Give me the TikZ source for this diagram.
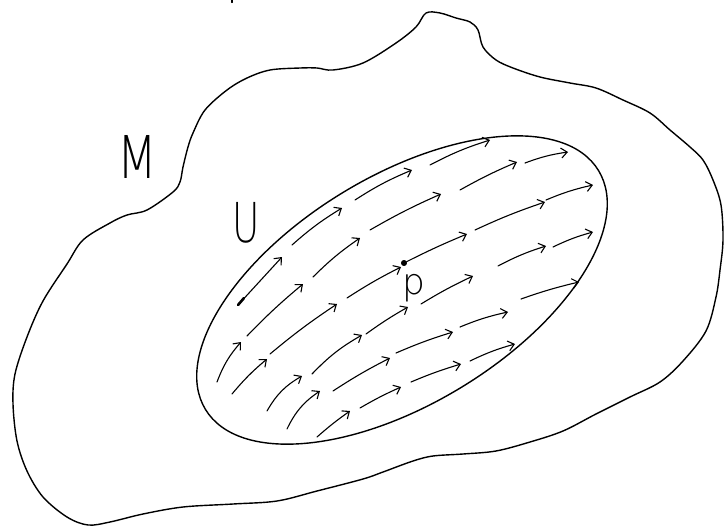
\documentclass[tikz,border=0pt]{standalone}
\usepackage{fontspec}
\newfontfamily\handfont{DejaVu Sans ExtraLight}
\usetikzlibrary{arrows.meta,shapes.geometric}
\begin{document}
\begin{tikzpicture}[x=1pt,y=-1pt, line cap=round, line join=round,
  outline/.style={line width=1.4pt},
  vec/.style={line width=1.1pt, -{Straight Barb[length=6pt,width=10pt]}},
  lbl/.style={inner sep=0pt}]
\useasboundingbox (0,0) rectangle (726,528);
% outer region M
\draw[outline] plot[smooth cycle, tension=0.55] coordinates {
 (426,13) (440,13) (456,18) (470,22) (478,30) (483,47) (496,60) (513,68)
 (540,77) (570,83) (596,88) (623,100) (650,113) (670,130) (690,147) (703,160)
 (713,180) (721,205) (723,240) (720,270) (716,297) (706,331) (683,361) (660,382)
 (630,397) (596,414) (563,431) (530,442) (496,451) (463,454) (433,456) (413,461)
 (383,472) (363,479) (317,491) (277,501) (233,504) (183,507) (143,514) (110,522)
 (88,525) (67,517) (43,497) (27,471) (17,441) (13,404) (15,374) (27,337)
 (43,301) (67,264) (83,240) (110,223) (127,215) (147,210) (173,192) (180,182)
 (183,167) (188,147) (193,133) (205,110) (227,90) (247,78) (270,70) (300,68)
 (317,68) (333,70) (363,63) (396,43) (416,27)};
\draw[line width=1.2pt] (232,0) -- (232,2.5);
% open set U
\node[draw, ellipse, outline, minimum width=460pt, minimum height=228pt,
      inner sep=0pt, rotate=31.3] (U) at (402,290) {};
% labels
\node[lbl, font=\handfont\fontsize{59pt}{59pt}\selectfont] (Mlabel) at (137,157) {\scalebox{0.78}[1]{M}};
\node[lbl, font=\handfont\fontsize{55pt}{55pt}\selectfont] (Ulabel) at (246,223) {\scalebox{0.68}[1]{U}};
\node[lbl, font=\handfont\fontsize{36pt}{36pt}\selectfont] (plabel) at (414,288) {p};
% point p
\node[circle, draw, fill, line width=1pt, inner sep=0pt, minimum size=5pt] (p) at (404,263) {};
% vector field
\draw[vec] (p) to[bend left=2] (467,234);
\foreach \xa/\ya/\xb/\yb/\bd in {
 430/165/490/140/5, 355/200/412/170/5, 460/190/517/162/3, 525/163/568/152/6,
 292/245/342/208/5, 370/230/441/194/3, 475/230/545/202/3, 546/200/593/185/5,
 238/305/282/257/0, 313/277/360/238/5, 498/266/546/246/5, 553/247/593/232/5,
 247/336/303/284/3, 347/298/401/267/3, 421/304/473/276/3, 521/299/579/282/3,
 217/382/241/342/10, 270/354/337/304/3, 366/334/408/307/3, 460/327/508/312/5,
 232/394/267/359/5, 312/374/362/335/8, 396/353/453/332/3, 470/361/515/344/5,
 267/411/302/376/15, 333/391/390/358/3, 411/382/461/364/3, 287/429/320/391/15,
 360/408/401/387/3, 317/437/350/411/3}
 {\draw[vec] (\xa,\ya) to[bend left=\bd] (\xb,\yb);}
\draw[line width=2.6pt] (238,305) -- (244,298);
\end{tikzpicture}
\end{document}
